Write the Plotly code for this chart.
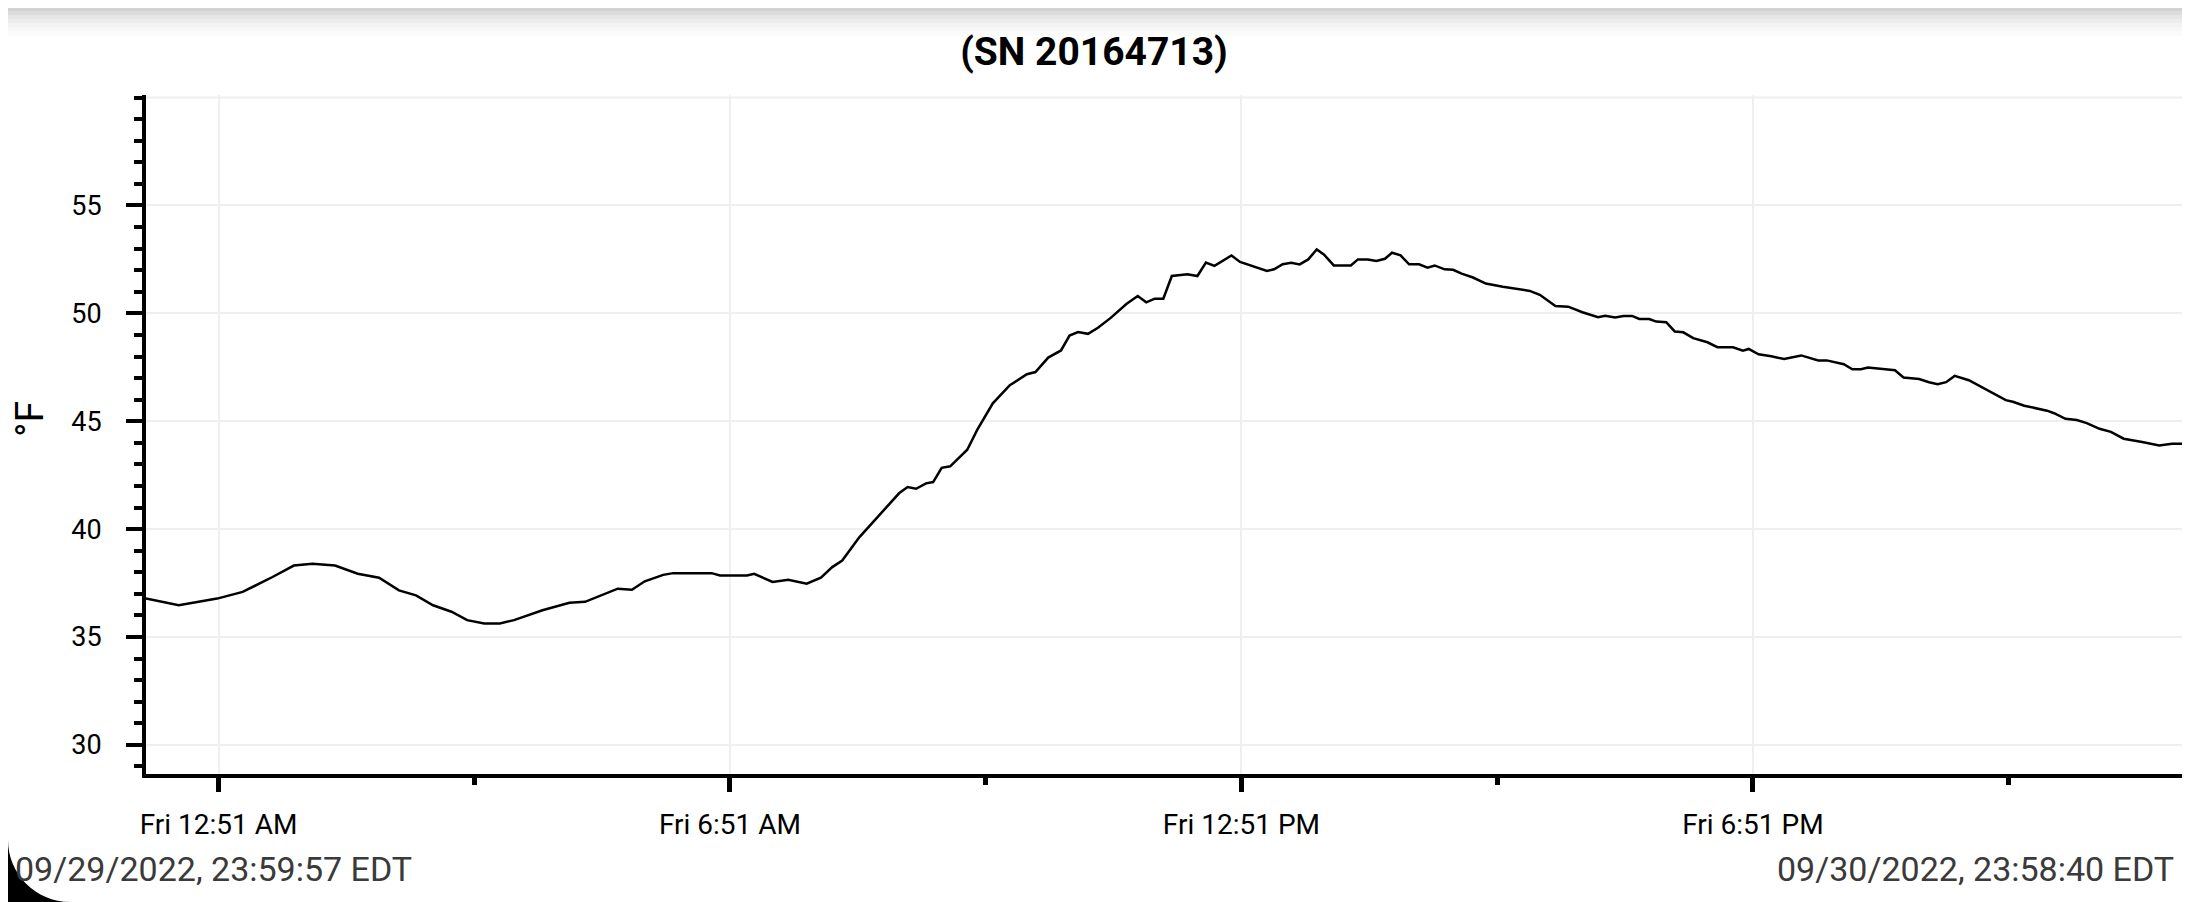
import plotly.graph_objects as go

# logger readings, 09/29/2022 23:59:57 -> 09/30/2022 23:58:40 EDT
start_time = "2022-09-29 23:59:57"
end_time = "2022-09-30 23:58:40"
clock = [
    "00:23", "00:50", "01:08", "01:29", "01:44", "01:57", "02:13", "02:29", "02:44", "02:58",
    "03:10", "03:22", "03:35", "03:46", "03:58", "04:09", "04:19", "04:39", "04:58", "05:09",
    "05:32", "05:42", "05:51", "06:04", "06:11", "06:38", "06:44", "07:03", "07:08", "07:21",
    "07:32", "07:45", "07:55", "08:03", "08:10", "08:22", "08:38", "08:50", "08:56", "09:02",
    "09:09", "09:14", "09:20", "09:26", "09:38", "09:45", "09:56", "10:08", "10:20", "10:26",
    "10:35", "10:44", "10:50", "10:56", "11:03", "11:10", "11:19", "11:30", "11:38", "11:44",
    "11:50", "11:56", "12:02", "12:13", "12:20", "12:26", "12:32", "12:44", "12:50", "12:58",
    "13:09", "13:14", "13:20", "13:26", "13:32", "13:38", "13:44", "13:49", "13:56", "14:08",
    "14:13", "14:20", "14:26", "14:32", "14:37", "14:43", "14:49", "14:56", "15:02", "15:07",
    "15:14", "15:20", "15:26", "15:34", "15:43", "15:55", "16:08", "16:14", "16:21", "16:26",
    "16:32", "16:41", "16:51", "17:02", "17:07", "17:14", "17:20", "17:26", "17:31", "17:38",
    "17:43", "17:50", "17:56", "18:02", "18:09", "18:19", "18:26", "18:37", "18:44", "18:48",
    "18:55", "19:04", "19:13", "19:25", "19:37", "19:43", "19:55", "20:01", "20:07", "20:12",
    "20:19", "20:31", "20:37", "20:48", "20:55", "21:01", "21:07", "21:13", "21:23", "21:37",
    "21:49", "21:54", "22:02", "22:18", "22:23", "22:31", "22:39", "22:46", "22:55", "23:03",
    "23:12", "23:25", "23:37", "23:46",
]
times = [start_time] + ["2022-09-30 " + c for c in clock] + [end_time]
temps_f = [
    36.78,
    36.47, 36.78, 37.09, 37.78, 38.31, 38.39, 38.31, 37.93, 37.75, 37.16,
    36.93, 36.47, 36.17, 35.78, 35.63, 35.63, 35.78, 36.24, 36.59, 36.63,
    37.24, 37.19, 37.58, 37.88, 37.96, 37.96, 37.85, 37.85, 37.93, 37.55,
    37.65, 37.47, 37.75, 38.24, 38.54, 39.62, 40.77, 41.66, 41.95, 41.87,
    42.12, 42.18, 42.84, 42.91, 43.68, 44.60, 45.83, 46.67, 47.18, 47.28,
    47.95, 48.28, 48.97, 49.13, 49.05, 49.33, 49.79, 50.43, 50.80, 50.51,
    50.68, 50.68, 51.73, 51.81, 51.73, 52.35, 52.20, 52.68, 52.38, 52.20,
    51.97, 52.04, 52.28, 52.35, 52.27, 52.50, 52.96, 52.73, 52.22, 52.22,
    52.50, 52.50, 52.43, 52.53, 52.81, 52.69, 52.27, 52.27, 52.12, 52.22,
    52.04, 52.02, 51.84, 51.66, 51.38, 51.23, 51.08, 51.04, 50.86, 50.62,
    50.34, 50.31, 50.05, 49.82, 49.89, 49.81, 49.88, 49.88, 49.74, 49.74,
    49.62, 49.59, 49.16, 49.12, 48.85, 48.66, 48.43, 48.43, 48.27, 48.35,
    48.10, 48.01, 47.88, 48.05, 47.82, 47.82, 47.64, 47.41, 47.41, 47.49,
    47.43, 47.36, 47.03, 46.96, 46.81, 46.72, 46.81, 47.10, 46.90, 46.40,
    45.98, 45.90, 45.72, 45.49, 45.37, 45.11, 45.06, 44.91, 44.65, 44.51,
    44.19, 44.04, 43.88, 43.96,
    43.96,
]
y_labels = [30, 35, 40, 45, 50, 55]
top_grid = 60

title = "(SN 20164713)"
footer_left = "09/29/2022, 23:59:57 EDT"
footer_right = "09/30/2022, 23:58:40 EDT"

# the page body has an 8px margin, so the figure is offset by 8px;
# it is made 8px wider/taller than the visible area so it reaches the window edges
PAGE_W, PAGE_H, OFF = 2190, 902, 8
W, H = PAGE_W, PAGE_H
ml, mr, mt, mb = 146 - OFF, OFF, 95 - OFF, 128 + OFF
pw, ph = W - ml - mr, H - mt - mb


def px(x):
    # page pixel -> paper x
    return (x - OFF - ml) / pw


def py(y):
    # page pixel -> paper y
    return (H - mb - (y - OFF)) / ph


FONT = "Roboto"
GRID = "#efefef"

fig = go.Figure()
fig.add_trace(go.Scatter(x=times, y=temps_f, mode="lines",
                         line=dict(color="black", width=2.5), showlegend=False))

fig.update_layout(
    width=W, height=H,
    margin=dict(l=ml, r=mr, t=mt, b=mb),
    paper_bgcolor="white", plot_bgcolor="white",
    font=dict(family=FONT, color="black"),
    title=dict(text="<b>" + title + "</b>", xref="container", x=(1094 - OFF) / W,
               xanchor="center", y=1 - (51 - OFF) / H, yanchor="middle",
               font=dict(size=39, color="black")),
)

fig.update_xaxes(
    type="date", range=[start_time, end_time],
    tick0="2022-09-30 00:51", dtick=6 * 3600 * 1000, tickformat="%a %-I:%M %p",
    ticks="outside", ticklen=14, tickwidth=5, tickcolor="black",
    tickfont=dict(size=28, color="black"), ticklabelstandoff=8,
    showline=True, linewidth=4, linecolor="black",
    showgrid=True, gridcolor=GRID, gridwidth=2, zeroline=False,
    minor=dict(tick0="2022-09-30 00:51", dtick=3 * 3600 * 1000, ticks="outside",
               ticklen=7, tickwidth=5, tickcolor="black", showgrid=False),
)

fig.update_yaxes(
    range=[28.65, 60.12],
    tickmode="array", tickvals=y_labels,
    ticks="outside", ticklen=16, tickwidth=4, tickcolor="black",
    tickfont=dict(size=27, color="black"), ticklabelstandoff=19,
    showline=True, linewidth=4, linecolor="black",
    showgrid=True, gridcolor=GRID, gridwidth=2, zeroline=False,
    minor=dict(tickmode="linear", tick0=0, dtick=1, ticks="outside",
               ticklen=8, tickwidth=4, tickcolor="black", showgrid=False),
)

# gridline at 60 (unlabelled)
fig.add_shape(type="line", xref="paper", yref="y", x0=0, x1=1, y0=top_grid, y1=top_grid,
              line=dict(color=GRID, width=2), layer="below")

# axis title
fig.add_annotation(text="°F", xref="paper", yref="paper", x=px(30), y=py(419),
                   textangle=-90, showarrow=False, font=dict(size=39, color="black"),
                   xanchor="center", yanchor="middle")

# footer timestamps
fig.add_annotation(text=footer_left, xref="paper", yref="paper", x=px(13), y=py(869),
                   xanchor="left", yanchor="middle", showarrow=False,
                   font=dict(size=34, color="#3a3a3a"))
fig.add_annotation(text=footer_right, xref="paper", yref="paper", x=px(2176), y=py(869),
                   xanchor="right", yanchor="middle", showarrow=False,
                   font=dict(size=34, color="#3a3a3a"))

# top shadow of the screen capture
shade = ["#d2d2d2", "#dcdcdc", "#e5e5e5", "#ececec", "#f2f2f2", "#f7f7f7", "#fbfbfb"]
edges = [8, 11, 15, 19, 23, 27, 31, 36]
for i, c in enumerate(shade):
    fig.add_shape(type="rect", xref="paper", yref="paper",
                  x0=px(OFF), x1=px(PAGE_W + OFF), y0=py(edges[i]), y1=py(edges[i + 1]),
                  fillcolor=c, line=dict(width=0), layer="below")

# rounded screen corner bottom-left
r = 62
corner = "M {},{} C {},{} {},{} {},{} L {},{} Z".format(
    px(OFF), py(PAGE_H - r), px(OFF), py(PAGE_H - r + 0.55 * r), px(OFF + r - 0.55 * r),
    py(PAGE_H), px(OFF + r), py(PAGE_H), px(OFF), py(PAGE_H))
fig.add_shape(type="path", xref="paper", yref="paper", path=corner,
              fillcolor="black", line=dict(width=0))

fig.write_html("out.html")
